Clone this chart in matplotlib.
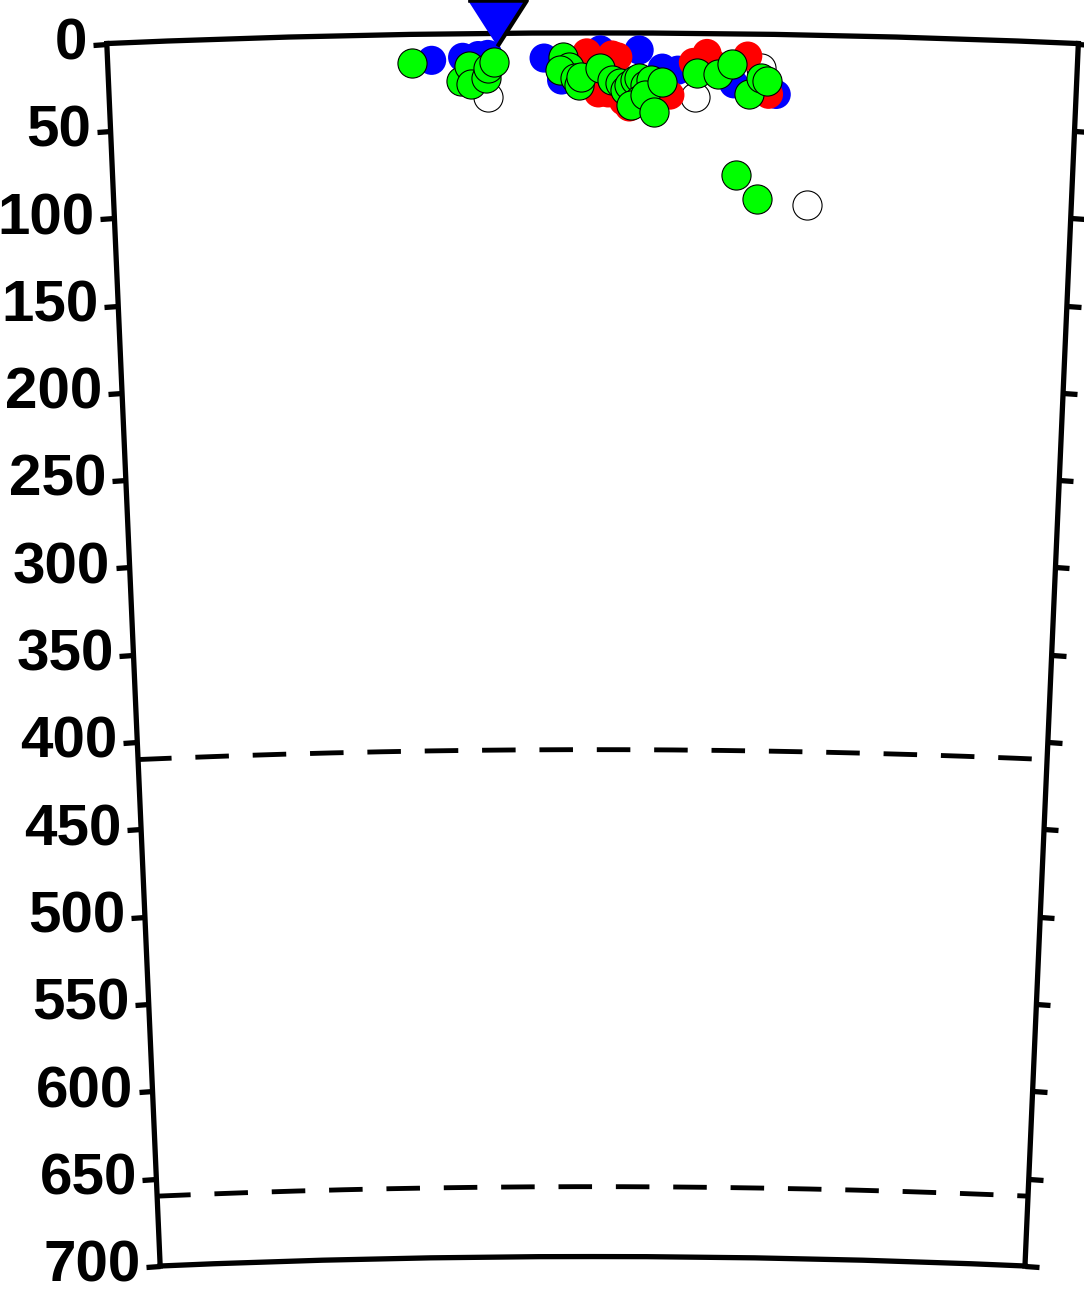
import numpy as np
import matplotlib
matplotlib.use('Agg')
import matplotlib.pyplot as plt
from matplotlib.markers import MarkerStyle
from matplotlib.ticker import FuncFormatter

plt.rcParams['font.family'] = ['Liberation Sans', 'DejaVu Sans']
plt.rcParams['font.weight'] = 'bold'

R_EARTH = 6371.0
MAX_DEPTH = 700.0
SECTION_WIDTH = 5.0  # degrees along the profile

depth_ticks = list(range(0, 701, 50))
discontinuities = [410, 660]

# station on the surface (distance in degrees, depth in km)
station_dist = [2.01]
station_depth = [7.0]

# events: distance along profile (deg) and depth (km)
white_dist = [1.96, 3.03, 3.37, 3.62]
white_depth = [36.6, 36.6, 19.4, 97.0]

blue_dist = [1.67, 1.83, 1.91, 1.96, 2.25, 2.34, 2.54, 2.74, 2.86, 2.87, 2.94, 3.23, 3.45]
blue_depth = [15.0, 13.5, 12.6, 12.0, 14.3, 26.9, 9.7, 9.7, 20.0, 22.9, 21.1, 28.6, 34.3]

red_dist = [2.47, 2.53, 2.58, 2.60, 2.63, 2.69, 2.66, 2.90, 3.02, 3.09, 3.12, 3.30, 3.41]
red_depth = [11.4, 34.3, 34.3, 12.6, 13.7, 42.3, 39.0, 35.4, 16.6, 11.4, 17.1, 12.6, 34.3]

green_dist = [1.57, 1.82, 1.86, 1.87, 1.95, 1.96, 1.99,
              2.35, 2.38, 2.33, 2.41, 2.43, 2.44, 2.54,
              2.60, 2.64, 2.67, 2.69, 2.72, 2.74, 2.77, 2.80,
              2.74, 2.70, 2.77, 2.82, 2.86,
              3.04, 3.15, 3.22, 3.31, 3.37, 3.40, 3.25, 3.36]
green_depth = [16.4, 26.9, 18.3, 28.6, 25.7, 20.0, 16.6,
               13.7, 19.4, 21.1, 25.7, 29.7, 25.1, 20.0,
               26.9, 28.6, 32.6, 29.7, 26.9, 25.7, 29.7, 26.9,
               38.3, 41.1, 35.4, 45.1, 28.0,
               22.9, 22.9, 17.1, 34.3, 25.1, 26.9, 81.0, 94.0]


def to_polar(dist, depth):
  return np.deg2rad(np.asarray(dist)), R_EARTH - np.asarray(depth)


def plot_events(ax, dist, depth, face, edge):
  th, r = to_polar(dist, depth)
  ax.scatter(th, r, s=440, c=face, edgecolors=edge, linewidths=0.8,
             clip_on=False, zorder=3)


if __name__ == '__main__':
  fig = plt.figure(figsize=(10.84, 12.89), dpi=100)
  ax = fig.add_axes([-0.0221, 0.01784, 1.1375, 0.9566], projection='polar')
  ax.set_theta_zero_location('N', offset=SECTION_WIDTH / 2)
  ax.set_theta_direction(-1)
  ax.set_thetamin(0)
  ax.set_thetamax(SECTION_WIDTH)
  ax.set_rlim(R_EARTH - MAX_DEPTH, R_EARTH)
  ax.set_rorigin(0)
  ax.grid(False)

  for sp in ax.spines.values():
    sp.set_linewidth(3.8)
    sp.set_color('black')

  ax.set_xticks([])
  ax.set_yticks([R_EARTH - d for d in depth_ticks])
  ax.yaxis.set_major_formatter(FuncFormatter(lambda r, pos: f'{R_EARTH - r:.0f}'))
  ax.tick_params(axis='y', left=True, right=True, labelleft=True, labelright=False,
                 length=10, width=3.8, direction='out', pad=4, labelsize=42)

  th_line = np.deg2rad(np.linspace(0, SECTION_WIDTH, 300))
  for d in discontinuities:
    ax.plot(th_line, np.full_like(th_line, R_EARTH - d), color='black', lw=3.5,
            linestyle=(0, (6.9, 4.9)), zorder=2)

  plot_events(ax, white_dist, white_depth, 'white', 'black')
  plot_events(ax, blue_dist, blue_depth, 'blue', 'none')
  plot_events(ax, red_dist, red_depth, 'red', 'none')
  plot_events(ax, green_dist, green_depth, '#00ff00', 'black')

  tri = MarkerStyle([(-0.64, 1.0), (0.64, 1.0), (0.0, 0.0)], joinstyle='miter')
  th, r = to_polar(station_dist, station_depth)
  ax.plot(th, r, linestyle='none', marker=tri, markersize=66,
          markerfacecolor='blue', markeredgecolor='black', markeredgewidth=3,
          clip_on=False, zorder=5)

  fig.savefig('out.png', dpi=100)
